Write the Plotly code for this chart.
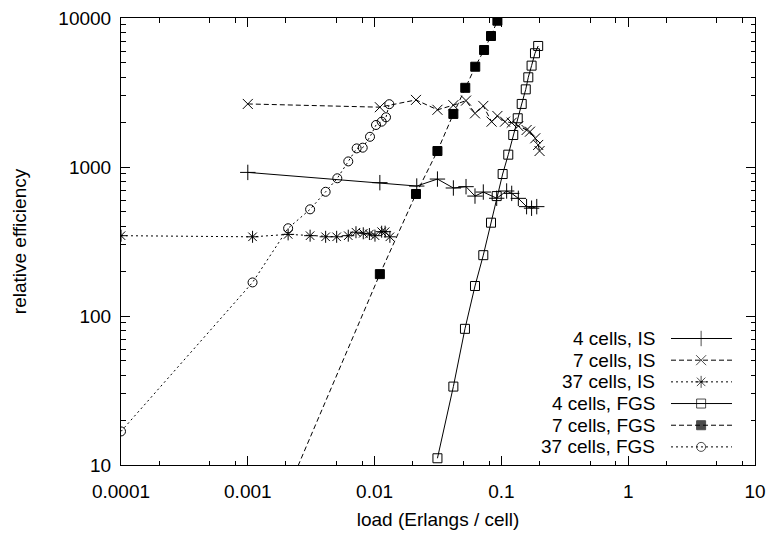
import plotly.graph_objects as go

# values (load in Erlangs/cell, relative efficiency)
x_is4 = [0.001, 0.011, 0.0215, 0.0313, 0.0418, 0.0526, 0.0619, 0.072, 0.0918, 0.110, 0.1206, 0.136, 0.158, 0.173, 0.190]
y_is4 = [920, 785, 745, 830, 723, 738, 638, 679, 617, 690, 665, 616, 542, 529, 542]

x_is7 = [0.001, 0.011, 0.0212, 0.0313, 0.0418, 0.0526, 0.0619, 0.072, 0.0837, 0.093, 0.1068, 0.1206, 0.136, 0.158, 0.168, 0.185, 0.195, 0.2]
y_is7 = [2650, 2520, 2820, 2420, 2600, 2790, 2290, 2570, 2015, 2200, 2015, 1983, 1884, 1771, 1726, 1559, 1406, 1280]

x_is37 = [0.0001, 0.00109, 0.00208, 0.0031, 0.00411, 0.00502, 0.0062, 0.00713, 0.00814, 0.0091, 0.01007, 0.01137, 0.0121, 0.0132]
y_is37 = [346, 340, 353, 346, 340, 340, 346, 365, 359, 355, 346, 368, 368, 340]

x_fgs4 = [0.0313, 0.0418, 0.0516, 0.0619, 0.072, 0.0828, 0.0918, 0.1023, 0.1133, 0.124, 0.1345, 0.1446, 0.1556, 0.163, 0.173, 0.184, 0.195]
y_fgs4 = [11.1, 33.6, 82, 159, 256, 423, 638, 897, 1210, 1640, 2124, 2650, 3320, 4000, 4790, 5800, 6490]

x_fgs7 = [0.001, 0.011, 0.0212, 0.0313, 0.0418, 0.0519, 0.0622, 0.073, 0.0828, 0.093]
y_fgs7 = [1.6, 191, 659, 1280, 2270, 3400, 4710, 6100, 7570, 9590]

x_fgs37 = [0.0001, 0.00109, 0.00208, 0.0031, 0.00411, 0.00508, 0.0062, 0.00722, 0.00806, 0.0092, 0.01026, 0.01137, 0.0123, 0.01306]
y_fgs37 = [16.8, 168, 388, 520, 682, 840, 1090, 1333, 1348, 1595, 1914, 2015, 2157, 2640]

x_ticks = [0.0001, 0.001, 0.01, 0.1, 1, 10]
x_ticktext = ["0.0001", "0.001", "0.01", "0.1", "1", "10"]
y_ticks = [10, 100, 1000, 10000]
y_ticktext = ["10", "100", "1000", "10000"]

FONT = "Liberation Sans, Arial, Helvetica, sans-serif"
FS = 19

series = [
    ("4 cells, IS", x_is4, y_is4, "solid", "cross-thin-open", 11),
    ("7 cells, IS", x_is7, y_is7, "5px,3px", "x-thin-open", 10),
    ("37 cells, IS", x_is37, y_is37, "2px,3px", "asterisk-open", 10),
    ("4 cells, FGS", x_fgs4, y_fgs4, "solid", "square-open", 9),
    ("7 cells, FGS", x_fgs7, y_fgs7, "5px,3px", "square", 9),
    ("37 cells, FGS", x_fgs37, y_fgs37, "2px,3px", "circle-open", 9),
]

fig = go.Figure()

for name, xs, ys, dash, symbol, size in series:
    fig.add_trace(
        go.Scatter(
            x=xs,
            y=ys,
            mode="lines+markers",
            name=name,
            showlegend=False,
            line=dict(color="black", width=1, dash=dash),
            marker=dict(symbol=symbol, size=size, color="black",
                        line=dict(color="black", width=1)),
        )
    )

# gnuplot-style key: text on the left, sample on the right
for i, (name, xs, ys, dash, symbol, size) in enumerate(series):
    row_y = 0.283 - i * 0.0485
    fig.add_trace(
        go.Scatter(
            x=[0.8675, 0.915, 0.9637],
            y=[row_y] * 3,
            xaxis="x2",
            yaxis="y2",
            mode="lines+markers",
            showlegend=False,
            hoverinfo="skip",
            line=dict(color="black", width=1, dash=dash),
            marker=dict(symbol=symbol, size=[0, size, 0], color="black",
                        line=dict(color="black", width=1)),
        )
    )
    fig.add_annotation(
        x=0.845, y=row_y, xref="x2", yref="y2",
        text=name, showarrow=False, xanchor="right", yanchor="middle",
        font=dict(family=FONT, size=FS, color="black"),
    )

axis_common = dict(
    type="log",
    automargin=False,
    showline=True,
    linecolor="black",
    linewidth=1,
    mirror="allticks",
    ticks="inside",
    ticklen=9,
    tickcolor="black",
    tickwidth=1,
    showgrid=False,
    zeroline=False,
    ticklabeloverflow="allow",
    tickfont=dict(family=FONT, size=FS, color="black"),
)

fig.update_layout(
    width=772,
    height=538,
    margin=dict(l=121, r=17, t=18, b=73),
    paper_bgcolor="white",
    plot_bgcolor="white",
    font=dict(family=FONT, size=FS, color="black"),
    showlegend=False,
    xaxis=dict(
        axis_common,
        range=[-4, 1],
        tickmode="array",
        tickvals=x_ticks,
        ticktext=x_ticktext,
        ticklabelstandoff=9,
        minor=dict(
            tickmode="array",
            tickvals=[m * d for d in [0.0001, 0.001, 0.01, 0.1, 1] for m in (2, 5, 8)],
            ticks="inside", ticklen=4.5, tickcolor="black", tickwidth=1, showgrid=False,
        ),
        title=dict(text="load (Erlangs / cell)", font=dict(family=FONT, size=FS), standoff=11),
    ),
    yaxis=dict(
        axis_common,
        range=[1, 4],
        tickmode="array",
        tickvals=y_ticks,
        ticktext=y_ticktext,
        ticklabelstandoff=5,
        minor=dict(
            tickmode="array",
            tickvals=[m * d for d in [10, 100, 1000] for m in range(2, 10)],
            ticks="inside", ticklen=4.5, tickcolor="black", tickwidth=1, showgrid=False,
        ),
        title=dict(text="relative efficiency", font=dict(family=FONT, size=FS), standoff=26),
    ),
    xaxis2=dict(overlaying="x", range=[0, 1], visible=False, fixedrange=True),
    yaxis2=dict(overlaying="y", range=[0, 1], visible=False, fixedrange=True),
)

# drop the browser's default body margin so the figure sits at the window origin
fig.write_html(
    "out.html",
    config={"displayModeBar": False},
    post_script="document.body.style.margin = '0';",
)
